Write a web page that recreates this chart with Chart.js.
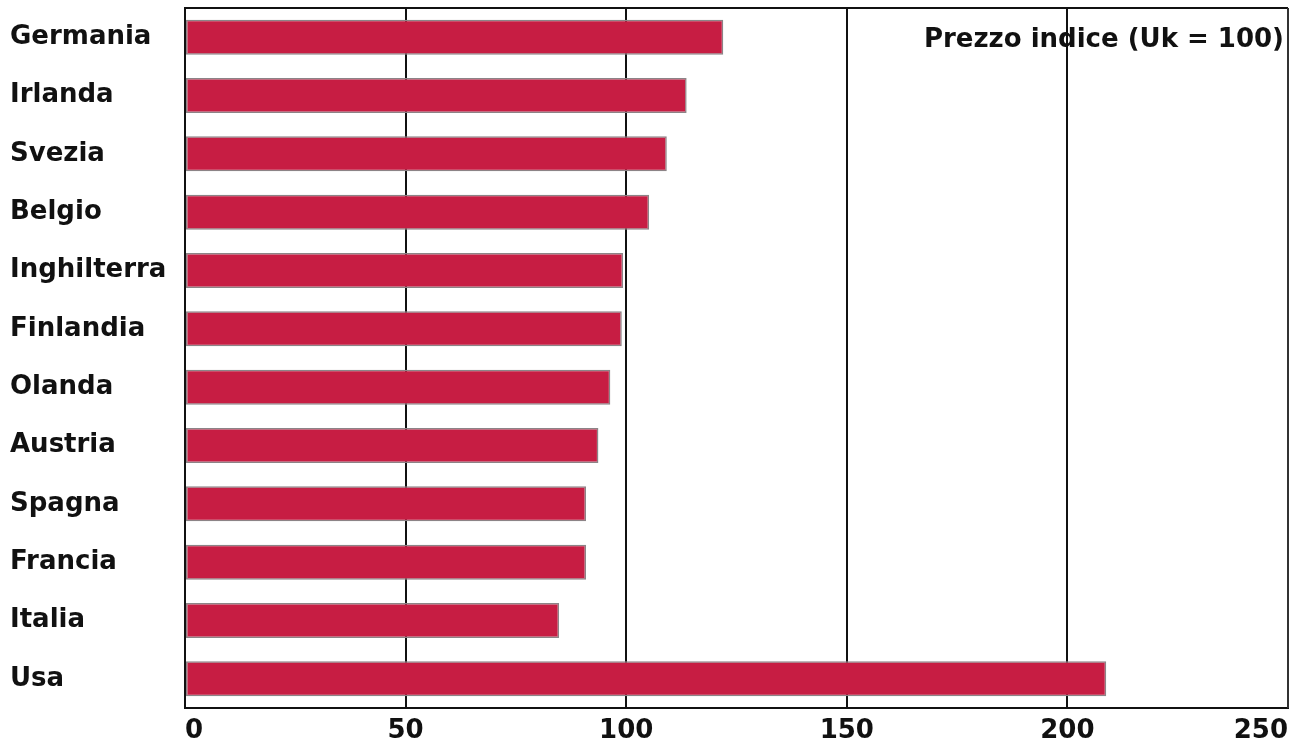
<!DOCTYPE html>
<html>
<head>
<meta charset="utf-8">
<script src="https://cdn.jsdelivr.net/npm/chart.js@4/dist/chart.umd.min.js"></script>
<style>
  html, body { margin: 0; padding: 0; background: #fff; }
  #wrap { width: 1291px; height: 742px; }
</style>
</head>
<body>
<div id="wrap"><canvas id="chart" width="1291" height="742"></canvas></div>
<script>
// countries, top to bottom
const countries = ['Germania', 'Irlanda', 'Svezia', 'Belgio', 'Inghilterra', 'Finlandia',
  'Olanda', 'Austria', 'Spagna', 'Francia', 'Italia', 'Usa'];
// price index, UK = 100
const priceIndex = [122, 113.7, 109.2, 105.2, 99.3, 99, 96.4, 93.7, 90.9, 90.9, 84.8, 208.8];
const xTicks = [0, 50, 100, 150, 200, 250];
const chartTitle = 'Prezzo indice (Uk = 100)';

const fontFamily = '"DejaVu Sans", sans-serif';

// box round the plot + title in the top right corner
const frameAndTitle = {
  id: 'frameAndTitle',
  afterDatasetsDraw(chart) {
    const { ctx, chartArea: a } = chart;
    ctx.save();
    ctx.strokeStyle = '#111';
    ctx.lineWidth = 2;
    ctx.beginPath();
    ctx.moveTo(a.left, a.top);
    ctx.lineTo(a.right, a.top);
    ctx.stroke();
    ctx.lineWidth = 1;
    ctx.strokeStyle = '#555';
    ctx.beginPath();
    ctx.moveTo(a.right, a.top);
    ctx.lineTo(a.right, a.bottom);
    ctx.stroke();

    ctx.font = 'bold 26px ' + fontFamily;
    ctx.fillStyle = '#111';
    ctx.textAlign = 'right';
    ctx.textBaseline = 'middle';
    ctx.fillText(chartTitle, a.right - 4, 40);
    ctx.restore();
  }
};

new Chart(document.getElementById('chart'), {
  type: 'bar',
  data: {
    labels: countries,
    datasets: [{
      data: priceIndex,
      backgroundColor: '#c71d43',
      borderColor: '#8c8487',
      borderWidth: 1.5,
      borderSkipped: false,
      categoryPercentage: 1,
      barPercentage: 0.6
    }]
  },
  options: {
    indexAxis: 'y',
    responsive: false,
    animation: false,
    layout: { padding: { top: 8, right: 3, left: 10, bottom: 0 } },
    plugins: {
      legend: { display: false },
      tooltip: { enabled: false }
    },
    scales: {
      x: {
        min: 0,
        max: 250,
        afterBuildTicks(axis) {
          axis.ticks = xTicks.map(v => ({ value: v }));
        },
        afterFit(axis) {
          axis.height = 34;
          axis.paddingLeft = 0;
          axis.paddingRight = 0;
        },
        grid: {
          color: '#111',
          lineWidth: 2,
          drawTicks: false
        },
        border: { color: '#111', width: 2 },
        ticks: {
          color: '#111',
          padding: 8,
          maxRotation: 0,
          align: 'inner', // keeps "250" inside the page
          font: { family: fontFamily, size: 26, weight: 'bold' }
        }
      },
      y: {
        afterFit(axis) {
          axis.width = 175;
          axis.paddingTop = 0;
          axis.paddingBottom = 0;
        },
        grid: { display: false },
        border: { color: '#111', width: 2 },
        ticks: {
          color: '#111',
          crossAlign: 'far',
          padding: 10,
          font: { family: fontFamily, size: 26, weight: 'bold' }
        }
      }
    }
  },
  plugins: [frameAndTitle]
});
</script>
</body>
</html>
